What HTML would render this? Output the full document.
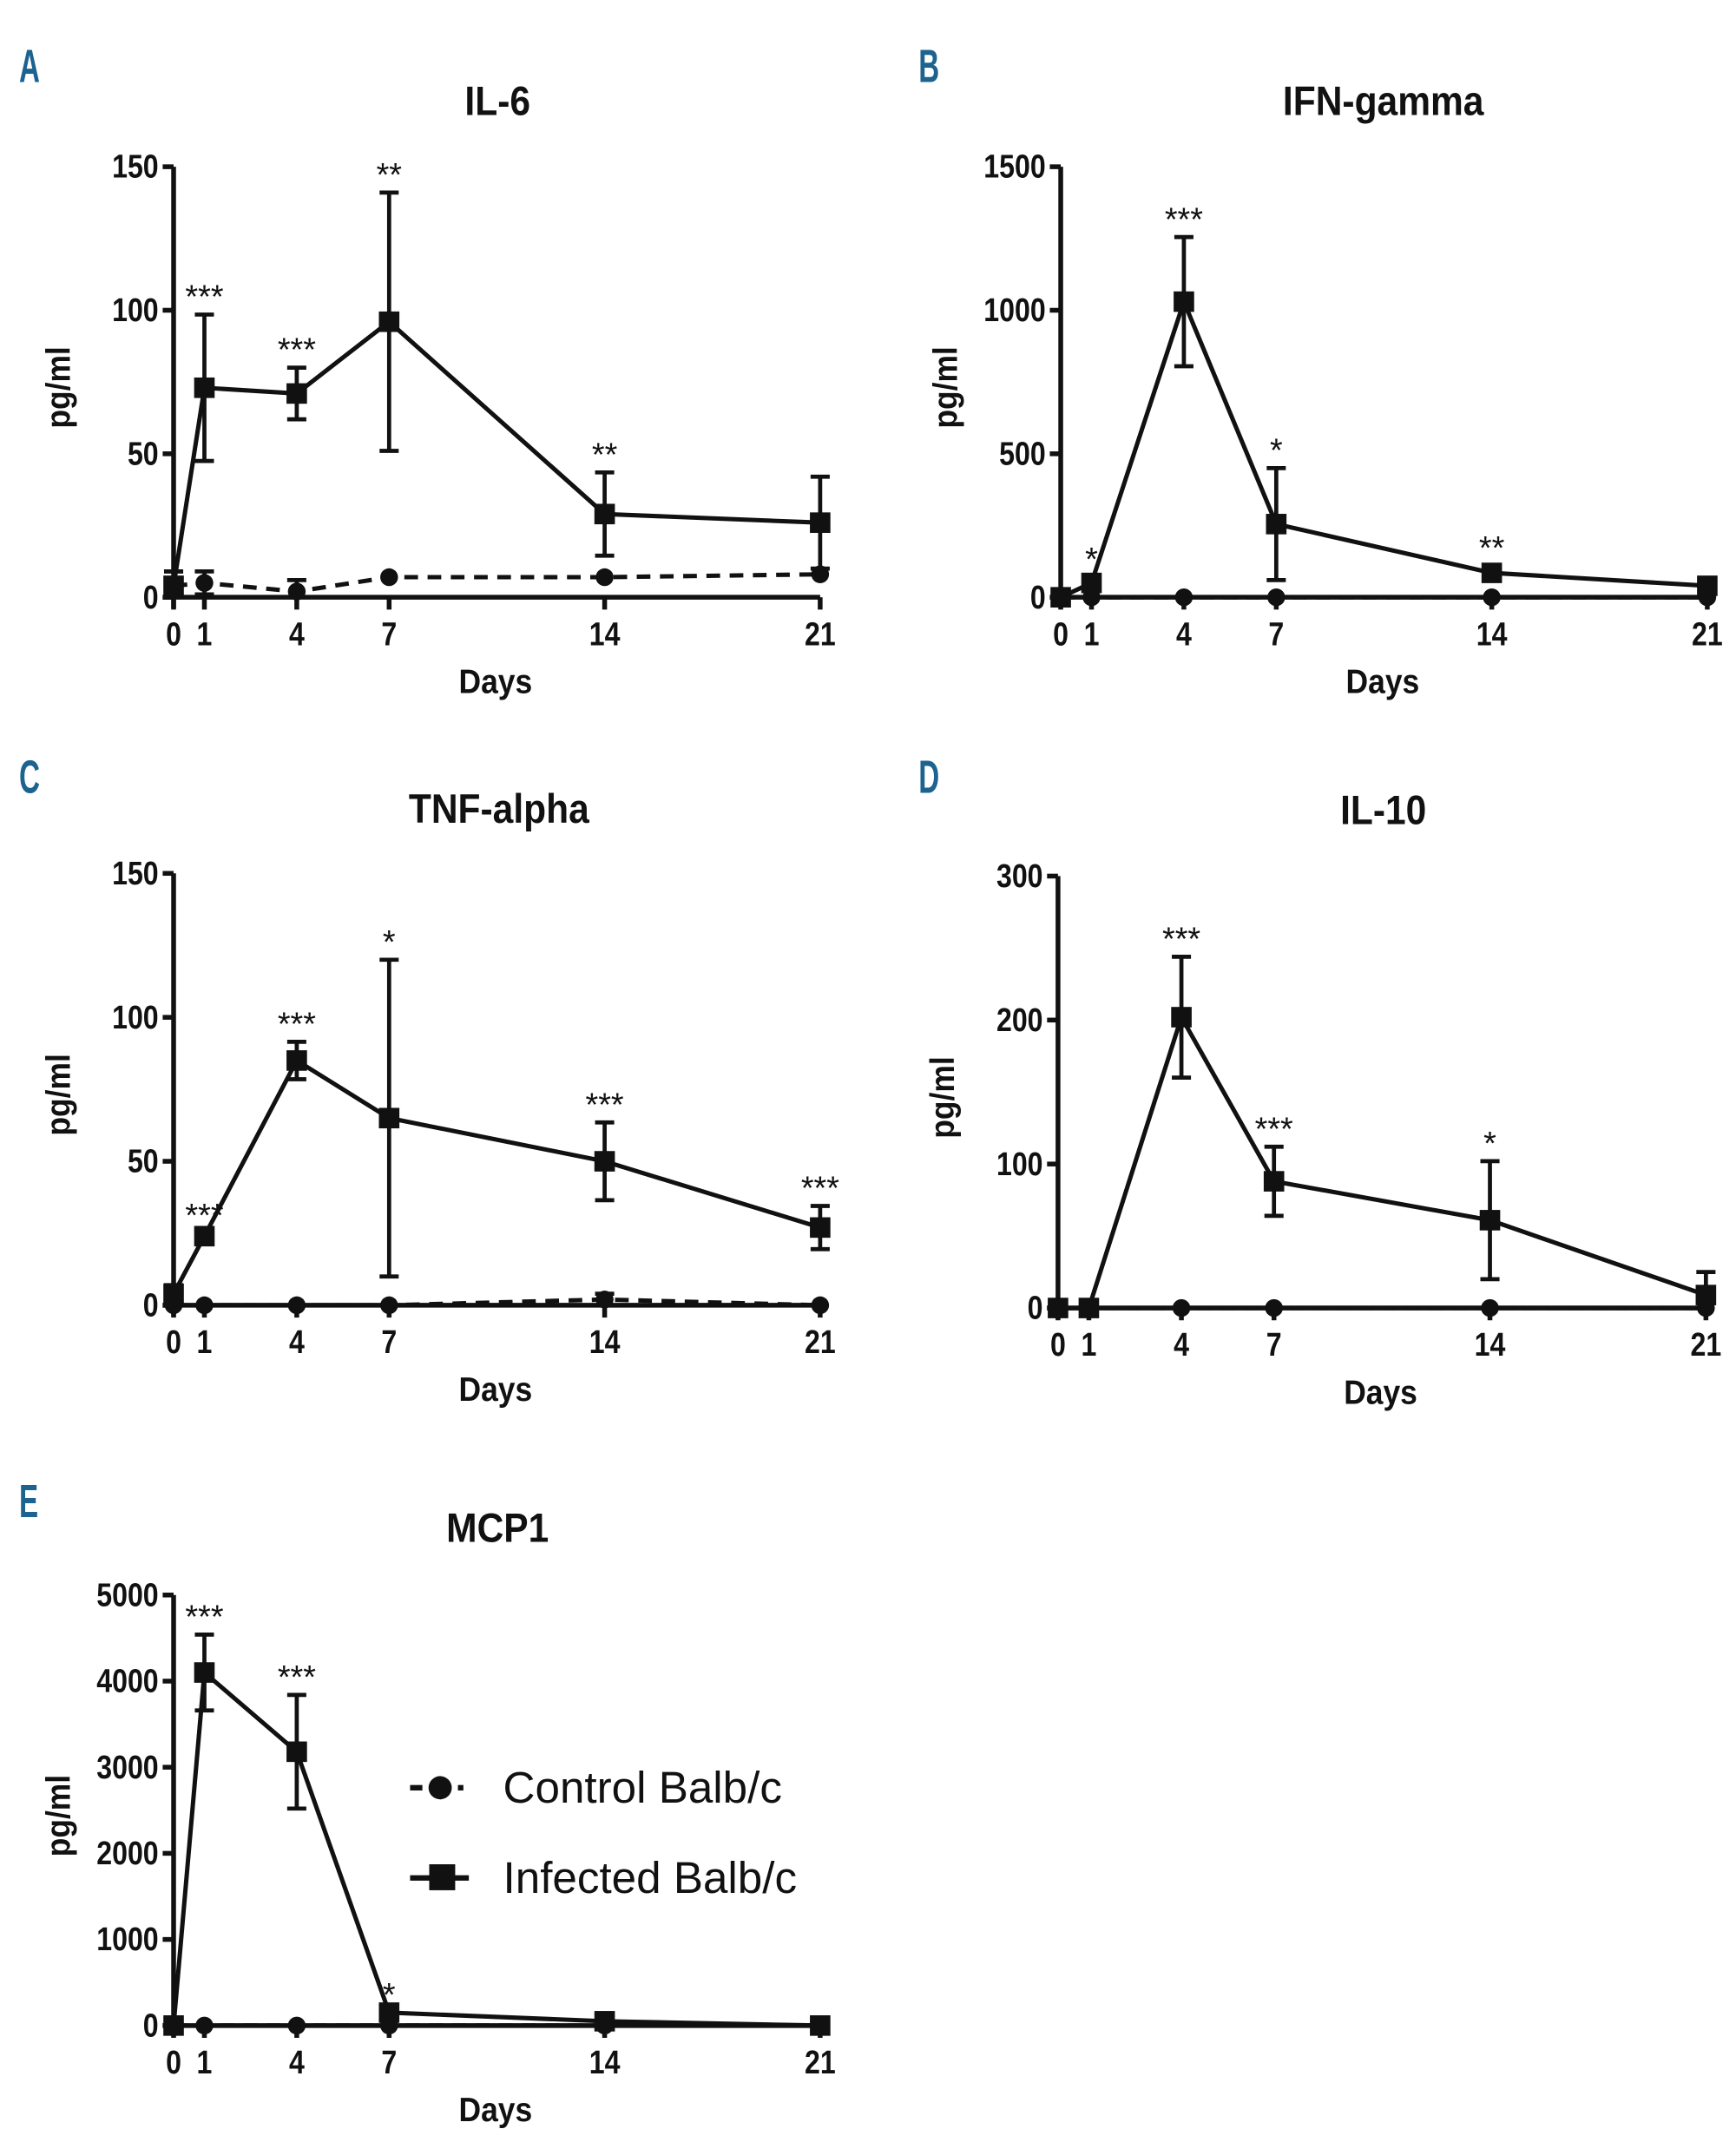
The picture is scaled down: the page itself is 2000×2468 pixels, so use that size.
<!DOCTYPE html>
<html><head><meta charset="utf-8"><style>
html,body{margin:0;padding:0;background:#fff;overflow:hidden;width:2000px;height:2468px;}
svg{display:block;}
</style></head><body>
<svg id="fig" width="2000" height="2468" viewBox="0 0 1270 1567.2" xmlns="http://www.w3.org/2000/svg" font-family="'Liberation Sans', sans-serif">
<g>
  <g>
    <line x1="300" y1="1308" x2="309" y2="1308" stroke="#111" stroke-width="4"/>
    <circle cx="322" cy="1308" r="8.5" fill="#111"/>
    <rect x="335" y="1306" width="4" height="4" fill="#111"/>
    <text x="368" y="1319" font-size="32.5" fill="#111">Control Balb/c</text>
  </g>
  <g>
    <line x1="300" y1="1374" x2="343" y2="1374" stroke="#111" stroke-width="4"/>
    <rect x="314" y="1364" width="19" height="19" fill="#111"/>
    <text x="368" y="1385" font-size="32.5" fill="#111">Infected Balb/c</text>
  </g>
</g>
</svg>
<script>
const days = [0,1,4,7,14,21];
const il6Infected = [4,73,71,96,29,26];
const il6InfectedErr = [5,25.5,9,45,14.5,16];
const il6Control = [4,5,2,7,7,8];
const il6ControlErr = [5,4,4,0,0,0];
const il6Stars = ['','***','***','**','**',''];
const ifnInfected = [0,50,1030,255,85,40];
const ifnInfectedErr = [0,20,225,195,25,10];
const ifnControl = [0,0,0,0,0,0];
const ifnStars = ['','*','***','*','**',''];
const tnfInfected = [4,24,85,65,50,27];
const tnfInfectedErr = [3,1,6.5,55,13.5,7.5];
const tnfControl = [0,0,0,0,2,0];
const tnfControlErr = [0,0,0,0,2,0];
const tnfStars = ['','***','***','*','***','***'];
const il10Infected = [0,0,202,88,61,9];
const il10InfectedErr = [0,0,42,24,41,16];
const il10Control = [0,0,0,0,0,0];
const il10Stars = ['','','***','***','*',''];
const mcpInfected = [0,4100,3180,150,50,0];
const mcpInfectedErr = [0,440,660,0,0,0];
const mcpControl = [0,0,0,0,0,0];
const mcpStars = ['','***','***','*','',''];
const il6Ticks = [0,50,100,150];
const ifnTicks = [0,500,1000,1500];
const tnfTicks = [0,50,100,150];
const il10Ticks = [0,100,200,300];
const mcpTicks = [0,1000,2000,3000,4000,5000];

const NS = 'http://www.w3.org/2000/svg';
const svg = document.getElementById('fig');
function mk(tag, attrs, parent, txt){
  const e = document.createElementNS(NS, tag);
  for (const k in attrs) e.setAttribute(k, attrs[k]);
  if (txt !== undefined) e.textContent = txt;
  parent.appendChild(e);
  return e;
}
const zero = [0,0,0,0,0,0];

function panel(p){
  const g = mk('g', {}, svg);
  
  
  const X = d => p.x0 + (p.x1 - p.x0) * d / 21;
  const Y = v => p.y0 - (p.y0 - p.yTop) * v / p.ticks[p.ticks.length-1];
  const L = mk('text', {x: p.lx, y: p.ly, 'font-size': 34, 'font-weight': 'bold', fill: '#1c6390', transform: `translate(${p.lx} 0) scale(0.62 1) translate(${-p.lx} 0)`}, g, p.letter);
  
  
  const T = mk('text', {x: p.tx, y: p.ty, 'font-size': 30, 'font-weight': 'bold', 'text-anchor': 'middle', fill: '#111', transform: `translate(${p.tx} 0) scale(0.9 1) translate(${-p.tx} 0)`}, g, p.title);
  
  
  const ax = mk('g', {stroke: '#111', 'stroke-width': 3.5, fill: 'none'}, g);
  
  
  mk('line', {x1: p.x0, y1: p.yTop, x2: p.x0, y2: p.y0 + 8}, ax);
  mk('line', {x1: p.x0 - 8, y1: p.y0, x2: p.x1, y2: p.y0}, ax);
  p.ticks.forEach(t => {
    mk('line', {x1: p.x0 - 8, y1: Y(t), x2: p.x0, y2: Y(t)}, ax);
    const tl = mk('text', {x: p.x0 - 11, y: Y(t) + 8, 'font-size': 24, 'font-weight': 'bold', 'text-anchor': 'end', fill: '#111', stroke: 'none', transform: `translate(${p.x0-11} 0) scale(0.85 1) translate(${-(p.x0-11)} 0)`}, g, String(t));
    
    
  });
  days.forEach(d => {
    mk('line', {x1: X(d), y1: p.y0, x2: X(d), y2: p.y0 + 9}, ax);
    const tl = mk('text', {x: X(d), y: p.y0 + 35, 'font-size': 24, 'font-weight': 'bold', 'text-anchor': 'middle', fill: '#111', transform: `translate(${X(d)} 0) scale(0.85 1) translate(${-X(d)} 0)`}, g, String(d));
    
    
  });
  const cx = (p.x0 + p.x1) / 2 - 1;
  const xl = mk('text', {x: cx, y: p.y0 + 70, 'font-size': 25, 'font-weight': 'bold', 'text-anchor': 'middle', fill: '#111', transform: `translate(${cx} 0) scale(0.9 1) translate(${-cx} 0)`}, g, 'Days');
  
  
  const cy = (p.y0 + p.yTop) / 2 + 4;
  const yl = mk('text', {x: 0, y: 0, 'font-size': 25, 'font-weight': 'bold', 'text-anchor': 'middle', fill: '#111', transform: `translate(${p.x0 - 76} ${cy}) rotate(-90) scale(0.9 1)`}, g, 'pg/ml');
  
  

  function series(vals, errs, kind, dashed){
    const sg = mk('g', {}, g);
    
    
    days.forEach((d, i) => {
      if (errs[i] > 0) {
        const eb = mk('g', {stroke: '#111', 'stroke-width': 3}, sg);
        
        
        const lo = Math.max(0, vals[i] - errs[i]), hi = vals[i] + errs[i];
        mk('line', {x1: X(d), y1: Y(lo), x2: X(d), y2: Y(hi)}, eb);
        mk('line', {x1: X(d) - 7, y1: Y(hi), x2: X(d) + 7, y2: Y(hi)}, eb);
        if (vals[i] - errs[i] > 0) mk('line', {x1: X(d) - 7, y1: Y(lo), x2: X(d) + 7, y2: Y(lo)}, eb);
      }
    });
    const pts = days.map((d, i) => X(d) + ',' + Y(vals[i])).join(' ');
    const pl = mk('polyline', {points: pts, fill: 'none', stroke: '#111', 'stroke-width': 3.2}, sg);
    if (dashed) pl.setAttribute('stroke-dasharray', '10 7');
    
    
    days.forEach((d, i) => {
      let m;
      if (kind === 'sq') m = mk('rect', {x: X(d) - 7.5, y: Y(vals[i]) - 7.5, width: 15, height: 15, fill: '#111'}, sg);
      else m = mk('circle', {cx: X(d), cy: Y(vals[i]), r: 6.5, fill: '#111'}, sg);
      
      
    });
  }
  series(p.ctrl, p.ctrlErr || zero, 'ci', true);
  series(p.inf, p.infErr, 'sq', false);
  days.forEach((d, i) => {
    if (!p.stars[i]) return;
    const top = Y(p.inf[i] + p.infErr[i]);
    const s = mk('text', {x: X(d), y: top - 5, 'font-size': 24, 'text-anchor': 'middle', fill: '#111'}, g, p.stars[i]);
    
    
  });
}

panel({name:'il6', letter:'A', lx:14, ly:60, title:'IL-6', tx:364, ty:84, x0:127, x1:600, y0:437, yTop:122, ticks:il6Ticks, inf:il6Infected, infErr:il6InfectedErr, ctrl:il6Control, ctrlErr:il6ControlErr, stars:il6Stars});
panel({name:'ifn-gamma', letter:'B', lx:672, ly:60, title:'IFN-gamma', tx:1012, ty:84, x0:776, x1:1249, y0:437, yTop:122, ticks:ifnTicks, inf:ifnInfected, infErr:ifnInfectedErr, ctrl:ifnControl, stars:ifnStars});
panel({name:'tnf-alpha', letter:'C', lx:14, ly:580, title:'TNF-alpha', tx:365, ty:602, x0:127, x1:600, y0:955, yTop:639, ticks:tnfTicks, inf:tnfInfected, infErr:tnfInfectedErr, ctrl:tnfControl, ctrlErr:tnfControlErr, stars:tnfStars});
panel({name:'il10', letter:'D', lx:672, ly:580, title:'IL-10', tx:1012, ty:603, x0:774, x1:1248, y0:957, yTop:641, ticks:il10Ticks, inf:il10Infected, infErr:il10InfectedErr, ctrl:il10Control, stars:il10Stars});
panel({name:'mcp1', letter:'E', lx:14, ly:1110, title:'MCP1', tx:364, ty:1128, x0:127, x1:600, y0:1482, yTop:1167, ticks:mcpTicks, inf:mcpInfected, infErr:mcpInfectedErr, ctrl:mcpControl, stars:mcpStars});
</script>
</body></html>
